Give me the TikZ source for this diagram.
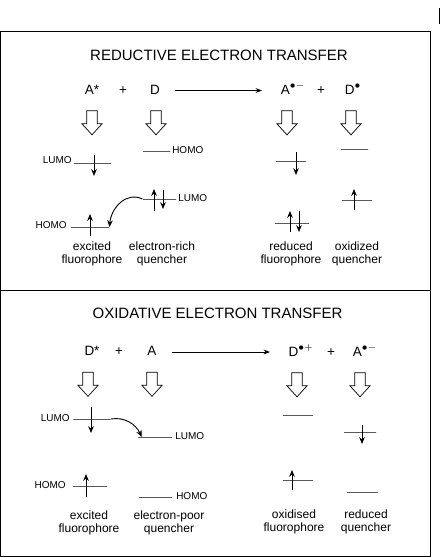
\documentclass[tikz,border=0pt]{standalone}
\usepackage{amsmath,amssymb}
\usepackage{fontspec}
\setmainfont{Liberation Sans}
\usetikzlibrary{arrows.meta, shapes.arrows}

\begin{document}
\begin{tikzpicture}[x=0.25mm, y=-0.25mm,
  title/.style={inner sep=0pt, font=\fontsize{10.67}{12}\selectfont},
  species/.style={inner sep=0pt, anchor=base, font=\fontsize{9.6}{11}\selectfont},
  orbital/.style={inner sep=0pt, font=\fontsize{7.1}{8}\selectfont},
  caption/.style={inner sep=0pt, align=center, font=\fontsize{8.54}{9.25}\selectfont},
  level/.style={draw, line width=0.65pt, inner sep=0pt, minimum height=0pt},
  down/.style={draw, single arrow, rotate=-90, fill=white, line width=0.5pt,
               minimum height=6mm, minimum width=5mm, single arrow head extend=1.25mm,
               single arrow tip angle=85, inner sep=0pt,
               execute at begin node={\rule{0pt}{2.4mm}}},
  elec/.style={-{Stealth[length=1.7mm,width=1.4mm]}, line width=0.65pt},
  react/.style={-{Stealth[length=1.6mm,width=1.2mm]}, line width=0.65pt}
]
\useasboundingbox (0,0) rectangle (440,557);
\draw[line width=0.65pt] (0.5,31.5) rectangle (430,556);
\draw[line width=0.65pt] (0.5,290) -- (430,290);
\draw[line width=0.65pt] (439,8) -- (439,24);

% reductive panel
\node[title]   (redtitle) at (219,55) {REDUCTIVE ELECTRON TRANSFER};
\node[species] (Astar) at (92,94) {A*};
\node[species] (plusa) at (123,94) {+};
\node[species] (Da)    at (155,94) {D};
\node[species] (Arad)  at (293,94) {A$^{\bullet-}$};
\node[species] (plusb) at (321,94) {+};
\node[species] (Drad)  at (353,94) {D$^{\bullet}$};
\coordinate (ra) at (175,90.5);
\coordinate (rb) at (262,90.5);
\draw[react] (ra) -- (rb);

\node[down] (da1) at (92,120) {};
\node[down] (da2) at (156,120) {};
\node[down] (da3) at (287,120) {};
\node[down] (da4) at (351,120) {};

\node[level, minimum width=9.25mm] (LA) at (92.5,163) {};
\node[orbital, anchor=east] (LAt) at (72,160) {LUMO};
\node[level, minimum width=9.5mm] (HA) at (90,227) {};
\node[orbital, anchor=east] (HAt) at (67,225) {HOMO};
\node[level, minimum width=6.75mm] (HD) at (156.5,151) {};
\node[orbital, anchor=west] (HDt) at (172,150.5) {HOMO};
\node[level, minimum width=8.25mm] (LD) at (159.5,199) {};
\node[orbital, anchor=west] (LDt) at (178,198.5) {LUMO};
\draw[elec] ([shift={(1.5,-8)}]LA.center) -- +(0,21);
\draw[elec] ([shift={(0,9)}]HA.center) -- +(0,-22);
\draw[elec] ([shift={(-5.5,12)}]LD.center) -- +(0,-22);
\draw[elec] ([shift={(3.5,-9)}]LD.center) -- +(0,19);
\draw[elec] (LD.west) to[out=155, in=85, looseness=1.1] (HA.east);

\node[level, minimum width=7.5mm] (LAr) at (291,161) {};
\node[level, minimum width=8.5mm] (HAr) at (292,223) {};
\node[level, minimum width=6.75mm] (LDr) at (354.5,149) {};
\node[level, minimum width=7.5mm] (HDr) at (357,200) {};
\draw[elec] ([shift={(5,-9)}]LAr.center) -- +(0,23);
\draw[elec] ([shift={(-2,9)}]HAr.center) -- +(0,-21);
\draw[elec] ([shift={(7,-12)}]HAr.center) -- +(0,21);
\draw[elec] ([shift={(-3,10)}]HDr.center) -- +(0,-21);

\node[caption] (c1) at (92,254) {excited\\fluorophore};
\node[caption] (c2) at (162,254) {electron-rich\\quencher};
\node[caption] (c3) at (291,254) {reduced\\fluorophore};
\node[caption] (c4) at (357,254) {oxidized\\quencher};

% oxidative panel
\node[title]   (oxtitle) at (217.5,313) {OXIDATIVE ELECTRON TRANSFER};
\node[species] (Dstar) at (92,355) {D*};
\node[species] (plusc) at (119,355) {+};
\node[species] (Ab)    at (152,355) {A};
\node[species] (Dradb) at (301,356) {D$^{\bullet+}$};
\node[species] (plusd) at (331,356) {+};
\node[species] (Aradb) at (365,356) {A$^{\bullet-}$};
\coordinate (rc) at (172,352);
\coordinate (rd) at (270,352);
\draw[react] (rc) -- (rd);

\node[down] (db1) at (88,381.5) {};
\node[down] (db2) at (152,381.5) {};
\node[down] (db3) at (297,382) {};
\node[down] (db4) at (360,382) {};

\node[level, minimum width=9.25mm] (LDb) at (92,419) {};
\node[orbital, anchor=east] (LDbt) at (70,418) {LUMO};
\node[level, minimum width=8.5mm] (HDb) at (90,486) {};
\node[orbital, anchor=east] (HDbt) at (66,485) {HOMO};
\node[level, minimum width=8.5mm] (LAb) at (155,437) {};
\node[orbital, anchor=west] (LAbt) at (175,436.5) {LUMO};
\node[level, minimum width=8.25mm] (HAb) at (155.5,497) {};
\node[orbital, anchor=west] (HAbt) at (176,496.5) {HOMO};
\draw[elec] ([shift={(-1,-12)}]LDb.center) -- +(0,26);
\draw[elec] ([shift={(-4,11)}]HDb.center) -- +(0,-23);
\draw[elec] (LDb.east) to[out=10, in=115, looseness=1] ([xshift=3]LAb.west);

\node[level, minimum width=7.5mm] (LDr2) at (298,415) {};
\node[level, minimum width=7.5mm] (HDr2) at (298,480) {};
\node[level, minimum width=8mm] (LAr2) at (360,432) {};
\node[level, minimum width=7.75mm] (HAr2) at (362.5,492) {};
\draw[elec] ([shift={(-6,10)}]HDr2.center) -- +(0,-20);
\draw[elec] ([shift={(2,-7)}]LAr2.center) -- +(0,19);

\node[caption] (c5) at (89,522.5) {excited\\fluorophore};
\node[caption] (c6) at (169,522.5) {electron-poor\\quencher};
\node[caption] (c7) at (294,521.5) {oxidised\\fluorophore};
\node[caption] (c8) at (366,521.5) {reduced\\quencher};
\end{tikzpicture}
\end{document}
